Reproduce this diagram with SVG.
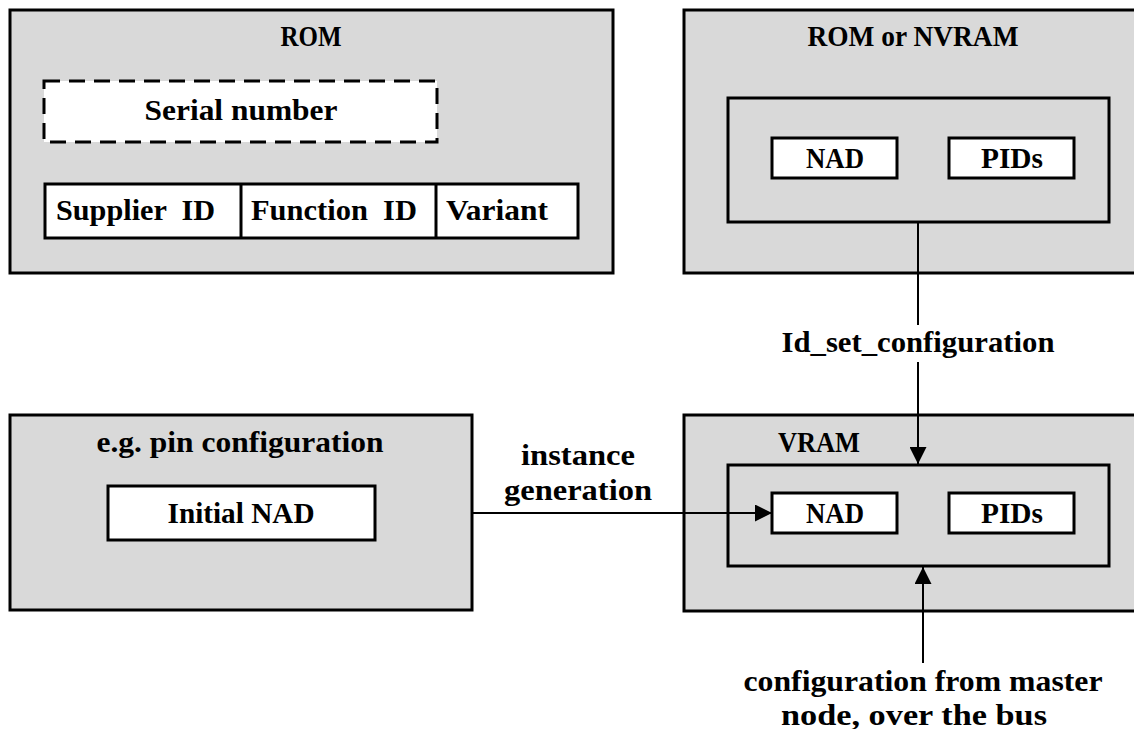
<svg xmlns="http://www.w3.org/2000/svg" width="1134" height="729" viewBox="0 0 1134 729">
<defs>
<style>
.outer{fill:#d9d9d9;stroke:#000;stroke-width:3}
.inner{fill:none;stroke:#000;stroke-width:3}
.wbox{fill:#fff;stroke:#000;stroke-width:3}
.dash{fill:#fff;stroke:#000;stroke-width:3;stroke-dasharray:16,9}
.t{font-family:"Liberation Serif","Times New Roman",serif;font-weight:bold;font-size:29px;fill:#000}
.c{text-anchor:middle}
.ln{stroke:#000;stroke-width:2;fill:none}
</style>
<marker id="ah" viewBox="0 0 17 17" refX="17" refY="8.5" markerWidth="17" markerHeight="17" markerUnits="userSpaceOnUse" orient="auto">
<path d="M0,0 L17,8.5 L0,17 Z" fill="#000"/>
</marker>
</defs>
<rect width="1134" height="729" fill="#fff"/>

<g id="rom">
<rect class="outer" x="10" y="10" width="603" height="263"/>
<text class="t c" x="311" y="46" textLength="61" lengthAdjust="spacingAndGlyphs">ROM</text>
<g id="serial">
<rect class="dash" x="44" y="81" width="393" height="61"/>
<text class="t c" x="241" y="120" textLength="193" lengthAdjust="spacingAndGlyphs">Serial number</text>
</g>
<g id="idrow">
<rect class="wbox" x="45" y="184" width="533" height="54"/>
<line class="inner" x1="241" y1="184" x2="241" y2="238"/>
<line class="inner" x1="436" y1="184" x2="436" y2="238"/>
<text class="t" x="56" y="220" textLength="159" lengthAdjust="spacingAndGlyphs" xml:space="preserve">Supplier  ID</text>
<text class="t" x="251" y="220" textLength="166" lengthAdjust="spacingAndGlyphs" xml:space="preserve">Function  ID</text>
<text class="t" x="446" y="220" textLength="102" lengthAdjust="spacingAndGlyphs">Variant</text>
</g>
</g>

<g id="nvram">
<rect class="outer" x="684" y="10" width="460" height="263"/>
<text class="t c" x="913" y="46" textLength="211" lengthAdjust="spacingAndGlyphs">ROM or NVRAM</text>
<rect class="inner" x="728" y="98" width="381" height="124"/>
<g id="nvram-nad">
<rect class="wbox" x="772" y="138" width="125" height="40"/>
<text class="t c" x="835" y="168" textLength="58" lengthAdjust="spacingAndGlyphs">NAD</text>
</g>
<g id="nvram-pids">
<rect class="wbox" x="949" y="138" width="125" height="40"/>
<text class="t c" x="1012" y="168" textLength="62" lengthAdjust="spacingAndGlyphs">PIDs</text>
</g>
</g>

<g id="pin">
<rect class="outer" x="10" y="415" width="462" height="195"/>
<text class="t c" x="240" y="452" textLength="287" lengthAdjust="spacingAndGlyphs">e.g. pin configuration</text>
<g id="initial-nad">
<rect class="wbox" x="108" y="486" width="267" height="54"/>
<text class="t c" x="241" y="523" textLength="147" lengthAdjust="spacingAndGlyphs">Initial NAD</text>
</g>
</g>

<g id="vram">
<rect class="outer" x="684" y="415" width="460" height="196"/>
<text class="t c" x="819" y="452" textLength="82" lengthAdjust="spacingAndGlyphs">VRAM</text>
<rect class="inner" x="728" y="465" width="381" height="101"/>
<g id="vram-nad">
<rect class="wbox" x="772" y="493" width="125" height="40"/>
<text class="t c" x="835" y="523" textLength="58" lengthAdjust="spacingAndGlyphs">NAD</text>
</g>
<g id="vram-pids">
<rect class="wbox" x="949" y="493" width="125" height="40"/>
<text class="t c" x="1012" y="523" textLength="62" lengthAdjust="spacingAndGlyphs">PIDs</text>
</g>
</g>

<g id="connectors">
<line class="ln" x1="918" y1="222" x2="918" y2="325"/>
<line class="ln" x1="918" y1="362" x2="918" y2="464" marker-end="url(#ah)"/>
<text class="t c" x="918" y="352" textLength="273" lengthAdjust="spacingAndGlyphs">Id_set_configuration</text>

<line class="ln" x1="472" y1="513" x2="772" y2="513" marker-end="url(#ah)"/>
<text class="t c" x="578" y="465" textLength="114" lengthAdjust="spacingAndGlyphs">instance</text>
<text class="t c" x="578" y="500" textLength="148" lengthAdjust="spacingAndGlyphs">generation</text>

<line class="ln" x1="923" y1="663" x2="923" y2="567" marker-end="url(#ah)"/>
<text class="t c" x="923" y="691" textLength="359" lengthAdjust="spacingAndGlyphs">configuration from master</text>
<text class="t c" x="914" y="725" textLength="266" lengthAdjust="spacingAndGlyphs">node, over the bus</text>
</g>
</svg>
